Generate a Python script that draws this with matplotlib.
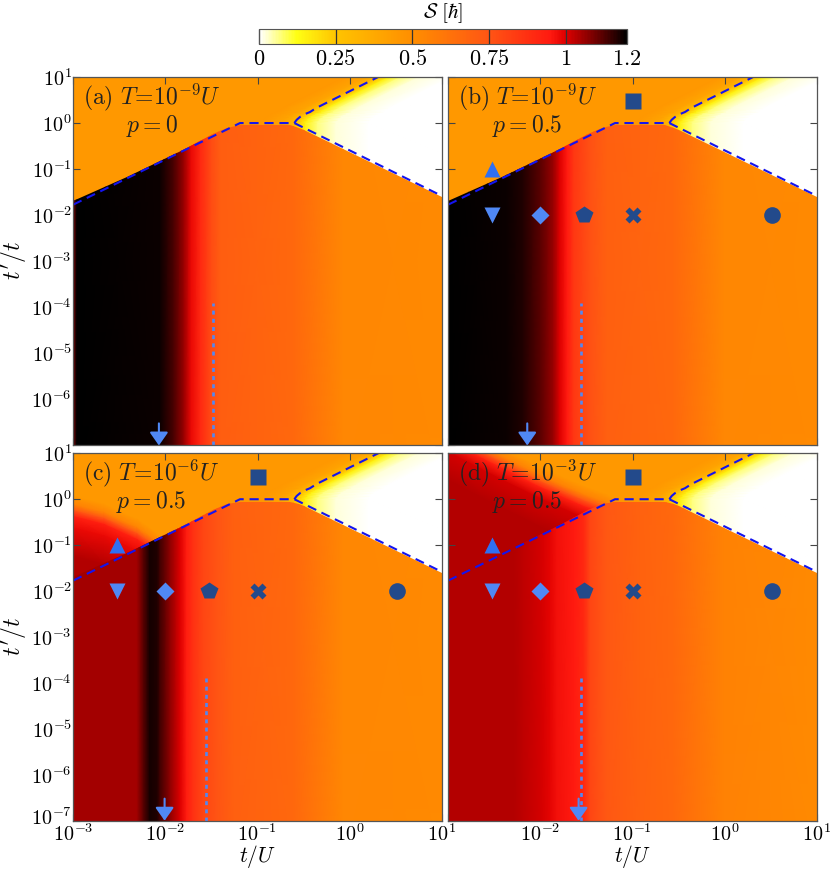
import numpy as np
import matplotlib
matplotlib.use('Agg')
import matplotlib.pyplot as plt
from matplotlib.colors import LinearSegmentedColormap, Normalize
from matplotlib.cm import ScalarMappable
from matplotlib.patches import Polygon
from matplotlib.ticker import NullLocator
from matplotlib.transforms import ScaledTranslation

plt.rcParams['mathtext.fontset'] = 'cm'
plt.rcParams['font.family'] = 'DejaVu Serif'

# colour scale for S [hbar]
cmap_S = [0.0, 0.12, 0.25, 0.5, 0.75, 0.95, 1.0, 1.1, 1.2]
cmap_hex = ['#ffffff', '#ffff14', '#ffc400', '#ff8e00', '#ff5514',
            '#ff1a10', '#e00000', '#700000', '#000000']
cbar_ticks = [0, 0.25, 0.5, 0.75, 1, 1.2]
cbar_labels = ['$0$', '$0.25$', '$0.5$', '$0.75$', '$1$', '$1.2$']

# axis ticks (decades)
x_dec = [-3, -2, -1, 0, 1]
y_dec = [-7, -6, -5, -4, -3, -2, -1, 0, 1]

# plateau value above the boundary
S_upper = 0.45

# dashed phase boundaries, log10(t/U), log10(t'/t)
dash_lx = [-3.0, -1.19, -0.6, 1.0]
dash_ly = [-1.77, 0.0, 0.0, -1.58]
upper_lx = [-0.6, -0.575, -0.54, -0.49, -0.43, -0.36, 0.31, 0.45]
upper_ly = [0.0, 0.07, 0.13, 0.19, 0.24, 0.33, 1.0, 1.14]

# edge of the lower (t' small) region
poly_lx = [-3.0, -3.0, -2.42, -1.81, -1.48, -1.33, -1.19, -0.65, -0.55, -0.5, 1.0, 1.0]
poly_ly = [-7.5, -1.7, -1.17, -0.58, -0.23, -0.11, -0.05, -0.05, -0.1, -0.14, -1.6, -7.5]

# bleaching to white right of the upper dashed curve
white_ly = [-1.8, 0.0, 0.07, 0.13, 0.19, 0.24, 0.33, 1.0, 1.2]
white_fx = [-0.6, -0.6, -0.575, -0.54, -0.49, -0.43, -0.36, 0.31, 0.51]
white_off = [-0.35, -0.12, 0.0, 0.12, 0.25, 0.45, 0.8, 3.0]
white_S = [0.45, 0.40, 0.30, 0.15, 0.07, 0.02, 0.0, 0.0]

# S along t/U inside the lower region, one profile per panel
lx_a = [-3.0, -2.96, -2.06, -1.91, -1.8, -1.72, -1.62, -1.5, -1.4, -0.61, -0.07, 1.0]
S_a = [1.1, 1.2, 1.19, 1.13, 1.06, 0.98, 0.9, 0.78, 0.71, 0.67, 0.53, 0.52]
lx_b = [-3.0, -2.37, -2.19, -2.0, -1.86, -1.79, -1.71, -1.64, -1.46, -1.28, -0.56, -0.01, 1.0]
S_b = [1.2, 1.19, 1.17, 1.12, 1.06, 1.0, 0.95, 0.85, 0.76, 0.7, 0.67, 0.53, 0.52]
lx_c = [-3.0, -2.31, -2.24, -2.17, -2.09, -2.06, -1.95, -1.84, -1.77, -1.7, -1.59,
        -1.44, -1.26, -0.61, -0.07, 1.0]
S_c = [1.05, 1.05, 1.12, 1.18, 1.17, 1.14, 1.07, 1.0, 0.94, 0.87, 0.8,
       0.75, 0.7, 0.67, 0.53, 0.52]
lx_d = [-3.0, -2.29, -2.19, -2.0, -1.9, -1.82, -1.64, -1.53, -1.46, -1.28, -0.92,
        -0.56, -0.01, 1.0]
S_d = [1.04, 1.04, 1.03, 1.01, 0.99, 0.97, 0.95, 0.9, 0.8, 0.74, 0.69,
       0.67, 0.55, 0.52]

# red patch above the boundary at higher T (front position vs t/U)
redc_lx = [-3.0, -2.67, -2.31, -2.2, -2.0, -1.0]
redc_front = [-0.25, -0.42, -0.75, -0.9, -1.2, -2.5]
redd_lx = [-3.0, -2.62, -2.04, -1.57, -1.3, -1.0]
redd_front = [1.4, 1.0, 0.42, 0.0, -0.2, -0.5]
red_off = [0.32, 0.13, 0.0, -0.13, -0.38, -1.0, -4.0]
redc_S = [0.45, 0.55, 0.75, 0.93, 0.98, 1.04, 1.05]
redd_S = [0.45, 0.55, 0.75, 0.93, 1.01, 1.04, 1.04]

# symbols in panels (b)-(d)
mk_x = [0.1, 0.003, 0.003, 0.01, 0.03, 0.1, 3.3]
mk_y = [3.0, 0.1, 0.01, 0.01, 0.01, 0.01, 0.01]

# arrows and dotted lines
arrow_x = [0.0085, 0.0072, 0.0098, 0.026]
dot_x = [0.033, 0.0275, 0.0275, 0.0275]

T_exp = [-9, -9, -6, -3]
p_val = ['0', '0.5', '0.5', '0.5']
letters = ['a', 'b', 'c', 'd']

cmap = LinearSegmentedColormap.from_list(
    'S', [(s / 1.2, c) for s, c in zip(cmap_S, cmap_hex)])
norm = Normalize(0, 1.2)

blue = '#1414ee'
lblue = '#5088f5'
mblue = '#2f6ff2'
dark = '#234a8b'

W, H = 830, 872
def fr(x0, y0, x1, y1):
    return [x0 / W, 1 - y1 / H, (x1 - x0) / W, (y1 - y0) / H]

fig = plt.figure(figsize=(W / 100, H / 100), dpi=100)
boxes = [fr(73.3, 77, 441.7, 445.5), fr(448.3, 77, 816.7, 445.5),
         fr(73.3, 453.3, 441.7, 820.7), fr(448.3, 453.3, 816.7, 820.7)]
profiles = [(lx_a, S_a), (lx_b, S_b), (lx_c, S_c), (lx_d, S_d)]
reds = [None, None, (redc_lx, redc_front, redc_S), (redd_lx, redd_front, redd_S)]

for i in range(4):
    ax = fig.add_axes(boxes[i])
    ax.set_xscale('log')
    ax.set_yscale('log')

    # plateau
    ax.pcolormesh([1e-3, 1e1], [1e-7, 1e1], [[S_upper]], cmap=cmap, norm=norm, zorder=0)

    # white region
    fy = np.array(white_ly)
    off = np.array(white_off)
    X = 10 ** (np.array(white_fx)[:, None] + off[None, :])
    Y = 10 ** np.repeat(fy[:, None], len(off), axis=1)
    C = np.tile(white_S, (len(fy), 1))
    ax.pcolormesh(X, Y, C, shading='gouraud', cmap=cmap, norm=norm, zorder=1)

    # red patch
    if reds[i] is not None:
        rlx, rfront, rS = reds[i]
        ro = np.array(red_off)
        X = 10 ** np.tile(rlx, (len(ro), 1))
        Y = 10 ** (np.array(rfront)[None, :] + ro[:, None])
        C = np.tile(np.array(rS)[:, None], (1, len(rlx)))
        ax.pcolormesh(X, Y, C, shading='gouraud', cmap=cmap, norm=norm, zorder=1)

    # lower region
    plx, pS = profiles[i]
    X, Y = np.meshgrid(10 ** np.array(plx), [1e-8, 1e2])
    C = np.tile(pS, (2, 1))
    m = ax.pcolormesh(X, Y, C, shading='gouraud', cmap=cmap, norm=norm, zorder=2)
    poly = Polygon(np.column_stack([10 ** np.array(poly_lx), 10 ** np.array(poly_ly)]),
                   closed=True, transform=ax.transData)
    m.set_clip_path(poly)

    # boundaries
    for bx, by in [(dash_lx, dash_ly), (upper_lx, upper_ly)]:
        ax.plot(10 ** np.array(bx), 10 ** np.array(by), color=blue, lw=1.5,
                dashes=(4.4, 2.8), zorder=3)

    ax.plot([dot_x[i], dot_x[i]], [1e-7, 10 ** -3.9], color=lblue, lw=1.9,
            linestyle=(0, (1.5, 1.6)), zorder=3)
    ax.annotate('', xy=(arrow_x[i], 1e-7), xytext=(arrow_x[i], 10 ** -6.52),
                arrowprops=dict(arrowstyle='-|>,head_width=0.56,head_length=0.8',
                                color=lblue, lw=1.5, mutation_scale=10,
                                shrinkA=0, shrinkB=0), zorder=4)

    if i > 0:
        shapes = ['s', '^', 'v', 'D', 'p', 'X', 'o']
        cols = [dark, mblue, lblue, lblue, dark, dark, dark]
        sizes = [11, 12, 12, 9, 13, 12, 12]
        for k in range(len(mk_x)):
            ax.plot(mk_x[k], mk_y[k], marker=shapes[k], color=cols[k], ms=sizes[k],
                    mec='none', zorder=5)

    ax.text(0.0255, 0.988,
            r'$\mathrm{(%s)}\ T\!=\!10^{%d}U$' % (letters[i], T_exp[i]) + '\n' +
            r'$p=%s$' % p_val[i],
            transform=ax.transAxes, ha='left', va='top', ma='center',
            fontsize=17, linespacing=1.0, color='#222222', zorder=6)

    ax.set_xlim(1e-3, 1e1)
    ax.set_ylim(1e-7, 1e1)
    ax.set_xticks([10.0 ** k for k in x_dec])
    ax.set_yticks([10.0 ** k for k in y_dec])
    ax.xaxis.set_minor_locator(NullLocator())
    ax.yaxis.set_minor_locator(NullLocator())
    xl = [r'$10^{%d}$' % k for k in x_dec]
    yl = [r'$10^{%d}$' % k for k in y_dec]
    if i == 3:
        xl[0] = ''
    if i == 0:
        yl[0] = ''
    ax.set_xticklabels(xl if i >= 2 else [''] * len(xl), fontsize=14.5)
    ax.set_yticklabels(yl if i in (0, 2) else [''] * len(yl), fontsize=14.5)
    ax.tick_params(which='both', direction='in', top=True, right=True,
                   length=5, width=0.8, color='#444444', pad=2)
    ax.tick_params(axis='y', pad=1)
    if i == 2:
        # lift the bottom y label a little off the x label below it
        lab = ax.get_yticklabels()[0]
        lab.set_transform(lab.get_transform() +
                          ScaledTranslation(0, 3 / 72, fig.dpi_scale_trans))
    for s in ax.spines.values():
        s.set_edgecolor('#555555')
        s.set_linewidth(0.9)
        s.set_zorder(7)

fig.text(14 / W, 1 - 261 / H, r"$t'/t$", rotation=90, ha='center', va='center', fontsize=17)
fig.text(14 / W, 1 - 637 / H, r"$t'/t$", rotation=90, ha='center', va='center', fontsize=17)
fig.text(257 / W, 1 - 862 / H, r'$t/U$', ha='center', va='baseline', fontsize=15.5)
fig.text(632 / W, 1 - 862 / H, r'$t/U$', ha='center', va='baseline', fontsize=15.5)

cax = fig.add_axes(fr(259, 29, 627, 44))
cb = fig.colorbar(ScalarMappable(norm=norm, cmap=cmap), cax=cax,
                  orientation='horizontal', ticks=cbar_ticks)
cb.ax.set_xticklabels(cbar_labels, fontsize=16)
cb.ax.tick_params(direction='in', length=10.8, width=0.9, color='#333333', pad=3)
cb.outline.set_edgecolor('#555555')
fig.text(443 / W, 1 - 18 / H, r'$\mathcal{S}\ [\hbar]$', ha='center', va='baseline',
         fontsize=15)

fig.savefig('out.png', dpi=100)
